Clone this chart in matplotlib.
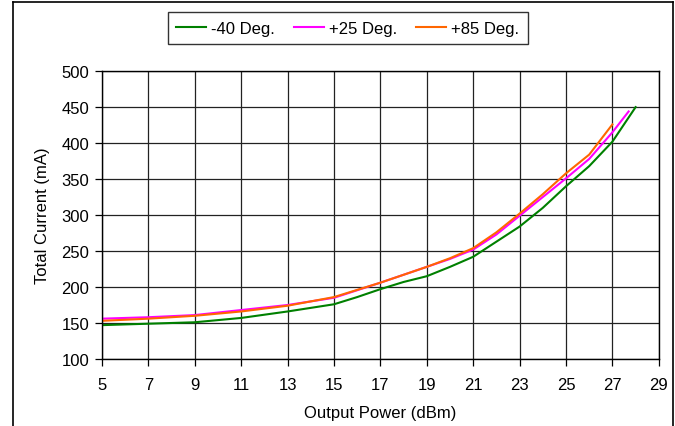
import matplotlib
matplotlib.use("Agg")
import matplotlib.pyplot as plt
from matplotlib.lines import Line2D

plt.rcParams['font.family'] = ['Liberation Sans', 'DejaVu Sans']

# -40 Deg.
x_m40 = [5, 7, 9, 11, 13, 15, 16, 17, 18, 19, 20, 21, 22, 23, 24, 25, 26, 27, 28]
i_m40 = [147, 149, 151, 157, 166, 176, 186, 197, 207, 215, 228, 242, 263, 284, 310, 340, 368, 402, 450]

# +25 Deg.
x_p25 = [5, 7, 9, 11, 13, 15, 17, 19, 20, 21, 22, 23, 24, 25, 26, 27, 27.7]
i_p25 = [156, 158, 161, 168, 175, 185, 206, 228, 239, 252, 273, 299, 325, 351, 378, 415, 444]

# +85 Deg.
x_p85 = [5, 7, 9, 11, 13, 15, 17, 19, 20, 21, 22, 23, 24, 25, 26, 27]
i_p85 = [153, 156, 160, 166, 174, 186, 206, 228, 240, 254, 276, 302, 329, 358, 384, 426]

xticks = list(range(5, 30, 2))
yticks = list(range(100, 501, 50))

fig = plt.figure(figsize=(6.75, 4.27), dpi=100)
ax = fig.add_axes([0.151, 0.157, 0.825, 0.674])

ax.plot(x_m40, i_m40, color='#008000', lw=1.5, label='-40 Deg.')
ax.plot(x_p25, i_p25, color='#ff00ff', lw=1.5, label='+25 Deg.')
ax.plot(x_p85, i_p85, color='#ff6600', lw=1.5, label='+85 Deg.')

ax.set_xlim(5, 29)
ax.set_ylim(100, 500)
ax.set_xticks(xticks)
ax.set_yticks(yticks)
ax.grid(True, color='#222222', lw=0.9)
ax.set_axisbelow(True)
for s in ax.spines.values():
    s.set_color('black')
    s.set_linewidth(1.0)
ax.tick_params(direction='out', length=5, width=0.9, labelsize=12, colors='black', pad=4)
ax.tick_params(axis='x', pad=8)
ax.set_xlabel('Output Power (dBm)', fontsize=12, labelpad=9)
ax.set_ylabel('Total Current (mA)', fontsize=12, labelpad=8)

leg = fig.legend(loc='center', bbox_to_anchor=(0.515, 0.932), ncol=3, fontsize=12,
                 frameon=True, fancybox=False, edgecolor='black', handlelength=1.8,
                 columnspacing=1.15, handletextpad=0.3, borderpad=0.5)
leg.get_frame().set_linewidth(1.0)

# outer chart border
fig.add_artist(Line2D([12.5 / 675, 12.5 / 675], [0, 1 - 2.5 / 427], color='black', lw=1.2, transform=fig.transFigure))
fig.add_artist(Line2D([673 / 675, 673 / 675], [0, 1 - 2.5 / 427], color='black', lw=1.2, transform=fig.transFigure))
fig.add_artist(Line2D([12.5 / 675, 673 / 675], [1 - 2.5 / 427, 1 - 2.5 / 427], color='black', lw=1.2, transform=fig.transFigure))

fig.savefig('out.png', dpi=100)
